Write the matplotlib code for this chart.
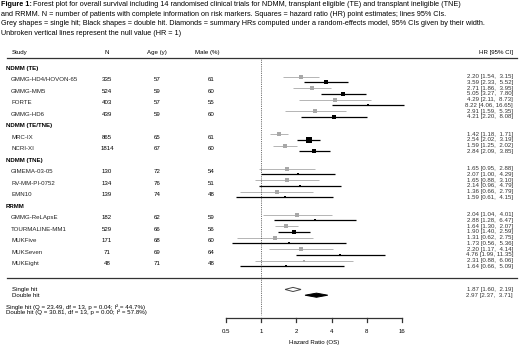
import numpy as np
import matplotlib
matplotlib.use("Agg")
import matplotlib.pyplot as plt
import matplotlib.transforms as mtransforms

plt.rcParams['font.family'] = ['Liberation Sans', 'DejaVu Sans']

group_names = ["NDMM (TE)", "NDMM (TE/TNE)", "NDMM (TNE)", "RRMM"]
group_counts = [4, 2, 3, 5]

study = ["GMMG-HD4/HOVON-65", "GMMG-MM5", "FORTE", "GMMG-HD6",
         "MRC-IX", "NCRI-XI",
         "GIMEMA-03-05", "RV-MM-PI-0752", "EMN10",
         "GMMG-ReLApsE", "TOURMALINE-MM1", "MUKFive", "MUKSeven", "MUKEight"]
n_pat = [335, 524, 403, 439, 865, 1814, 130, 134, 139, 182, 529, 171, 71, 48]
age = [57, 59, 57, 59, 65, 67, 72, 76, 74, 62, 66, 68, 69, 71]
male = [61, 60, 55, 60, 61, 60, 54, 51, 48, 59, 56, 60, 64, 48]

hr_single = [2.20, 2.71, 4.29, 2.91, 1.42, 1.59, 1.65, 1.65, 1.36, 2.04, 1.64, 1.31, 2.20, 2.31]
lo_single = [1.54, 1.86, 2.11, 1.59, 1.18, 1.25, 0.95, 0.88, 0.66, 1.04, 1.30, 0.62, 1.17, 0.88]
hi_single = [3.15, 3.95, 8.73, 5.35, 1.71, 2.02, 2.88, 3.10, 2.79, 4.01, 2.07, 2.75, 4.14, 6.06]

hr_double = [3.59, 5.05, 8.22, 4.21, 2.54, 2.84, 2.07, 2.14, 1.59, 2.88, 1.90, 1.73, 4.76, 1.64]
lo_double = [2.33, 3.27, 4.06, 2.20, 2.02, 2.09, 1.00, 0.96, 0.61, 1.28, 1.40, 0.56, 1.99, 0.66]
hi_double = [5.52, 7.80, 16.65, 8.08, 3.19, 3.85, 4.29, 4.79, 4.15, 6.47, 2.59, 5.36, 11.35, 5.09]

summary_labels = ["Single hit", "Double hit"]
summary_hr = [1.87, 2.97]
summary_lo = [1.60, 2.37]
summary_hi = [2.19, 3.71]
het_text = ["Single hit (Q = 23.49, df = 13, p = 0.04; I\u00b2 = 44.7%)",
            "Double hit (Q = 30.81, df = 13, p = 0.00; I\u00b2 = 57.8%)"]

ticks = [0.5, 1, 2, 4, 8, 16]

W, H = 520, 348
fig = plt.figure(figsize=(W / 100, H / 100), dpi=100)
ax = fig.add_axes([0, 0, 1, 1])
ax.set_xscale('log', base=2)
x_per_oct = 35.2
x_one = 261.2
ax.set_xlim(2 ** (-x_one / x_per_oct), 2 ** ((W - x_one) / x_per_oct))
row_h = 5.75
y_first = 76.7
ax.set_ylim((H - y_first) / row_h, -y_first / row_h)
ax.axis('off')

tr = mtransforms.blended_transform_factory(ax.transAxes, ax.transData)
fs = 4.4
grey = '#a8a8a8'


def px(x):
    return x / W


# title
title_lines = [
    "Forest plot for overall survival including 14 randomised clinical trials for NDMM, transplant eligible (TE) and transplant ineligible (TNE)",
    "and RRMM. N = number of patients with complete information on risk markers. Squares = hazard ratio (HR) point estimates; lines 95% CIs.",
    "Grey shapes = single hit; Black shapes = double hit. Diamonds = summary HRs computed under a random-effects model, 95% CIs given by their width.",
    "Unbroken vertical lines represent the null value (HR = 1)",
]
tfs = 5.25
t0 = fig.text(px(1), 1 - 4.5 / H, "Figure 1:", fontsize=tfs, fontweight='bold', va='center')
fig.canvas.draw()
bb = t0.get_window_extent()
fig.text((bb.x1 + 1.5) / W, 1 - 4.5 / H, title_lines[0], fontsize=tfs, va='center')
for i, line in enumerate(title_lines[1:]):
    fig.text(px(1), 1 - (14 + 9.7 * i) / H, line, fontsize=tfs, va='center')

# header
head_row = (52.7 - y_first) / row_h
rule_top = (58 - y_first) / row_h
ax.text(px(12), head_row, "Study", transform=tr, fontsize=fs, va='center')
ax.text(px(107), head_row, "N", transform=tr, fontsize=fs, va='center', ha='center')
ax.text(px(157), head_row, "Age (y)", transform=tr, fontsize=fs, va='center', ha='center')
ax.text(px(207), head_row, "Male (%)", transform=tr, fontsize=fs, va='center', ha='center')
ax.text(px(513), head_row, "HR [95% CI]", transform=tr, fontsize=fs, va='center', ha='right')
ax.plot([px(7), px(517)], [rule_top, rule_top], transform=tr, color='#333333', lw=0.9)

# layout rows
rows_single, rows_double, label_rows = [], [], []
cursor = 0
for g, cnt in zip(group_names, group_counts):
    ax.text(px(6), cursor - 1.5, g, transform=tr, fontsize=fs, fontweight='bold', va='center')
    for j in range(cnt):
        rows_single.append(cursor)
        rows_double.append(cursor + 1)
        label_rows.append(cursor + 0.5)
        cursor += 2
    cursor += 2
cursor -= 2


# weights -> marker sizes
def sizes(lo, hi, smin, smax):
    se = (np.log(hi) - np.log(lo)) / 3.92
    w = 1 / se ** 2
    r = np.sqrt((w - w.min()) / (w.max() - w.min()))
    return smin + (smax - smin) * r


ms_single = sizes(np.array(lo_single), np.array(hi_single), 2.0, 3.2)
ms_double = sizes(np.array(lo_double), np.array(hi_double), 1.5, 3.8)

for i in range(len(study)):
    r = label_rows[i]
    ax.text(px(11), r, study[i], transform=tr, fontsize=fs, va='center', color='#222222')
    ax.text(px(107), r, str(n_pat[i]), transform=tr, fontsize=fs, va='center', ha='center')
    ax.text(px(157), r, str(age[i]), transform=tr, fontsize=fs, va='center', ha='center')
    ax.text(px(211), r, str(male[i]), transform=tr, fontsize=fs, va='center', ha='center')

    for hr, lo, hi, row, col, lw, ms in [
            (hr_single[i], lo_single[i], hi_single[i], rows_single[i], grey, 0.6, ms_single[i]),
            (hr_double[i], lo_double[i], hi_double[i], rows_double[i], 'black', 0.9, ms_double[i])]:
        ax.errorbar([hr], [row], xerr=[[hr - lo], [hi - hr]], fmt='s', color=col,
                    ecolor=col, elinewidth=lw, capsize=1.1, capthick=lw,
                    markersize=ms, markeredgewidth=0)
        ax.text(px(513), row, "{:.2f} [{:.2f}, {:5.2f}]".format(hr, lo, hi),
                transform=tr, fontsize=fs, va='center', ha='right', color='#333333')

# rule under studies
rule_bot = cursor + 1
ax.plot([px(7), px(517)], [rule_bot, rule_bot], transform=tr, color='#333333', lw=0.9)

# summaries
dh = 0.36
for j in range(2):
    row = rule_bot + 2 + j
    ax.text(px(12), row, summary_labels[j], transform=tr, fontsize=fs, va='center')
    xs = [summary_lo[j], summary_hr[j], summary_hi[j], summary_hr[j]]
    ys = [row, row - dh, row, row + dh]
    if j == 0:
        ax.fill(xs, ys, facecolor='white', edgecolor='#444444', lw=0.7)
    else:
        ax.fill(xs, ys, facecolor='black', edgecolor='black', lw=0.7)
    ax.text(px(513), row, "{:.2f} [{:.2f}, {:5.2f}]".format(summary_hr[j], summary_lo[j], summary_hi[j]),
            transform=tr, fontsize=fs, va='center', ha='right', color='#333333')

for j in range(2):
    ax.text(px(6), rule_bot + 5 + j, het_text[j], transform=tr, fontsize=fs, va='center')

# null line
axis_row = rule_bot + 7
ax.plot([1, 1], [rule_top, axis_row - 0.5], color='#444444', lw=0.6, ls=(0, (1, 1.2)))

# x axis
ax.plot([ticks[0], ticks[-1]], [axis_row, axis_row], color='#333333', lw=0.9)
for t in ticks:
    ax.plot([t, t], [axis_row, axis_row + 0.7], color='#333333', lw=0.9)
    ax.text(t, axis_row + 2.35, "{:g}".format(t), fontsize=fs, ha='center', va='center')
ax.text(np.sqrt(ticks[0] * ticks[-1]), axis_row + 4.3, "Hazard Ratio (OS)", fontsize=fs,
        ha='center', va='center')

fig.savefig("out.png", dpi=100)
